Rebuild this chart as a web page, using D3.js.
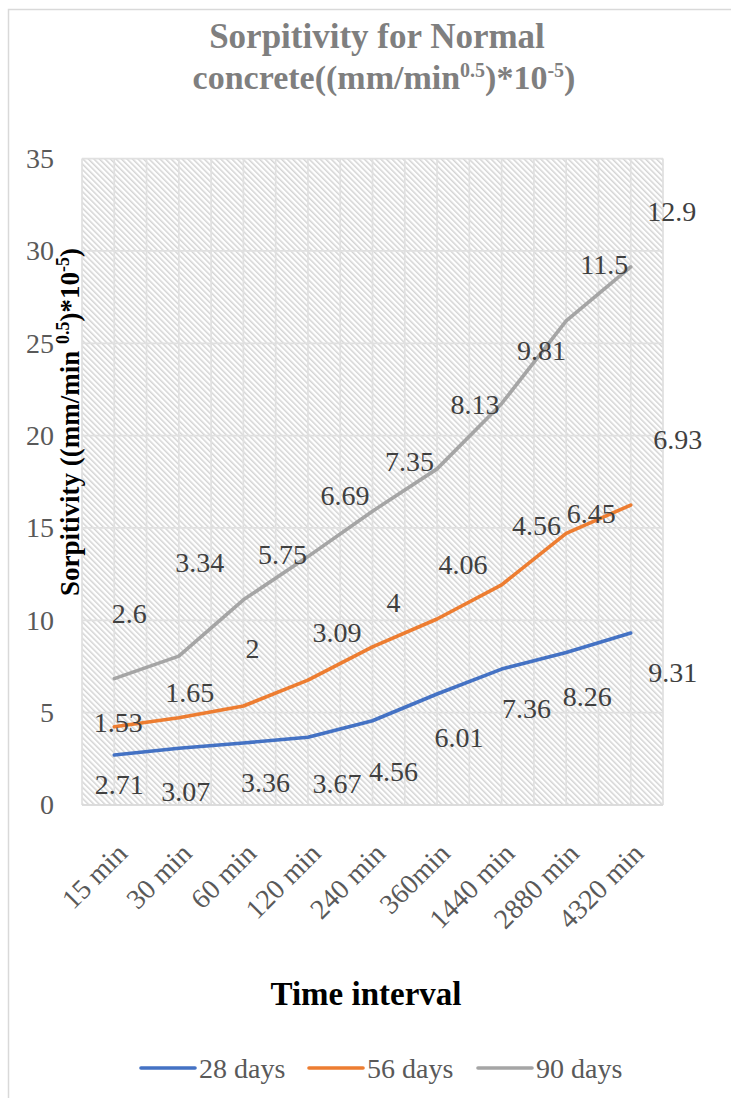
<!DOCTYPE html>
<html>
<head>
<meta charset="utf-8">
<script src="https://cdn.jsdelivr.net/npm/d3@7"></script>
<style>
  html, body { margin: 0; padding: 0; background: #fff; }
  svg { display: block; }
  text { font-family: "Liberation Serif", "Times New Roman", serif; }
</style>
</head>
<body>
<svg id="chart" width="731" height="1098"></svg>
<script>
// Sorptivity readings per time interval, one array per curing age
const categories = ["15 min", "30 min", "60 min", "120 min", "240 min", "360min", "1440 min", "2880 min", "4320 min"];
const days28 = [2.71, 3.07, 3.36, 3.67, 4.56, 6.01, 7.36, 8.26, 9.31];
const days56 = [1.53, 1.65, 2, 3.09, 4, 4.06, 4.56, 6.45, 6.93];
const days90 = [2.6, 3.34, 5.75, 6.69, 7.35, 8.13, 9.81, 11.5, 12.9];
const seriesNames = ["28 days", "56 days", "90 days"];
const yTicks = [0, 5, 10, 15, 20, 25, 30, 35];

// Pixel nudges of each value label from its point (dx, dy)
const labelNudge = [
  [[5, 30], [7, 43], [22, 40], [29, 46], [21, 51], [22, 43], [25, 39], [21, 44], [42, 39]],
  [[4, -4], [11, -25], [9, -58], [29, -48], [21, -44], [26, -55], [35, -59], [25, -20], [47, -66]],
  [[15, -65], [21, -94], [39, -45], [37, -61], [37, -50], [38, -64], [40, -53], [38, -56], [41, -55]]
];

const colors = ["#4472C4", "#ED7D31", "#A5A5A5"];
const svg = d3.select("#chart");

// Outer chart frame
svg.append("rect")
  .attr("x", 8.5).attr("y", 9.5).attr("width", 760).attr("height", 1120)
  .attr("fill", "none").attr("stroke", "#d9d9d9").attr("stroke-width", 1.5);

const plot = { left: 82, right: 663, top: 158.6, bottom: 805 };

const rows = categories.map((c, i) => ({
  cat: c, "28 days": days28[i], "56 days": days56[i], "90 days": days90[i]
}));
const stacked = d3.stack().keys(seriesNames)(rows);

const x = d3.scalePoint().domain(categories).range([plot.left, plot.right]).padding(0.5);
const y = d3.scaleLinear().domain([0, 35]).range([plot.bottom, plot.top]);

// Hatched plot background
const defs = svg.append("defs");
const pat = defs.append("pattern")
  .attr("id", "hatch").attr("patternUnits", "userSpaceOnUse")
  .attr("width", 3.9).attr("height", 10)
  .attr("patternTransform", "rotate(-45)");
pat.append("rect").attr("width", 3.9).attr("height", 10).attr("fill", "#ffffff");
pat.append("rect").attr("width", 1.5).attr("height", 10).attr("fill", "#d4d4d4");

svg.append("rect")
  .attr("x", plot.left).attr("y", plot.top)
  .attr("width", plot.right - plot.left).attr("height", plot.bottom - plot.top)
  .attr("fill", "url(#hatch)");

// Gridlines: horizontal at each tick, vertical at every half category step
const grid = svg.append("g").attr("stroke", "#e0e0e0").attr("stroke-width", 1.7);
grid.selectAll("line.h").data(yTicks).join("line")
  .attr("x1", plot.left).attr("x2", plot.right)
  .attr("y1", d => y(d)).attr("y2", d => y(d));
const half = x.step() / 2;
grid.selectAll("line.v").data(d3.range(categories.length * 2 + 1)).join("line")
  .attr("x1", k => plot.left + k * half).attr("x2", k => plot.left + k * half)
  .attr("y1", plot.top).attr("y2", plot.bottom);

// Y axis tick labels
const yAxis = svg.append("g")
  .attr("transform", `translate(${plot.left},0)`)
  .call(d3.axisLeft(y).tickValues(yTicks).tickSize(0).tickPadding(28));
yAxis.select(".domain").remove();
yAxis.selectAll("text")
  .attr("font-size", 28).attr("fill", "#595959")
  .style("font-family", "'Liberation Serif', 'Times New Roman', serif");

// X axis line and rotated category labels
const xAxis = svg.append("g")
  .attr("transform", `translate(0,${plot.bottom})`)
  .call(d3.axisBottom(x).tickSize(0).tickPadding(0));
xAxis.select(".domain").attr("stroke", "#d9d9d9").attr("stroke-width", 1.6)
  .attr("d", `M${plot.left},0H${plot.right}`);
xAxis.selectAll("text")
  .attr("font-size", 28).attr("fill", "#595959")
  .attr("text-anchor", "end")
  .attr("dy", 0).attr("y", 0)
  .attr("transform", "translate(14,50) rotate(-45)")
  .style("font-family", "'Liberation Serif', 'Times New Roman', serif");

// Series lines
const line = d3.line().x((d, i) => x(categories[i])).y(d => y(d[1]));
svg.append("g").selectAll("path").data(stacked).join("path")
  .attr("d", s => line(s))
  .attr("fill", "none")
  .attr("stroke", (s, i) => colors[i])
  .attr("stroke-width", 3.6)
  .attr("stroke-linejoin", "round")
  .attr("stroke-linecap", "round");

// Value labels
const valueSets = [days28, days56, days90];
const labels = svg.append("g").attr("font-size", 28).attr("fill", "#404040").attr("text-anchor", "middle");
stacked.forEach((s, si) => {
  s.forEach((d, i) => {
    labels.append("text")
      .attr("x", x(categories[i]) + labelNudge[si][i][0])
      .attr("y", y(d[1]) + labelNudge[si][i][1])
      .attr("dy", "0.34em")
      .text(valueSets[si][i]);
  });
});

// Chart title
const title = svg.append("text")
  .attr("text-anchor", "middle").attr("font-weight", "bold")
  .attr("font-size", 35).attr("fill", "#7f7f7f");
title.append("tspan").attr("x", 377).attr("y", 48).text("Sorpitivity for Normal");
const line2 = title.append("tspan").attr("x", 384).attr("y", 89).attr("font-size", 34);
line2.append("tspan").text("concrete((mm/min");
line2.append("tspan").attr("font-size", 20).attr("dy", -12).text("0.5");
line2.append("tspan").attr("dy", 12).text(")*10");
line2.append("tspan").attr("font-size", 20).attr("dy", -12).text("-5");
line2.append("tspan").attr("dy", 12).text(")");

// Y axis title
const yTitle = svg.append("text")
  .attr("transform", "translate(79,422) rotate(-90)")
  .attr("text-anchor", "middle").attr("font-weight", "bold")
  .attr("font-size", 27).attr("fill", "#000");
yTitle.append("tspan").text("Sorpitivity ((mm/min ");
yTitle.append("tspan").attr("font-size", 18).attr("dy", -10).text("0.5");
yTitle.append("tspan").attr("dy", 10).text(")*10");
yTitle.append("tspan").attr("font-size", 18).attr("dy", -10).text("-5");
yTitle.append("tspan").attr("dy", 10).text(")");

// X axis title
svg.append("text")
  .attr("x", 366).attr("y", 1005)
  .attr("text-anchor", "middle").attr("font-weight", "bold")
  .attr("font-size", 33).attr("fill", "#000")
  .text("Time interval");

// Legend
const legendX = [141, 309, 478];
const legend = svg.append("g");
seriesNames.forEach((name, i) => {
  legend.append("line")
    .attr("x1", legendX[i]).attr("x2", legendX[i] + 54)
    .attr("y1", 1068).attr("y2", 1068)
    .attr("stroke", colors[i]).attr("stroke-width", 3.6).attr("stroke-linecap", "round");
  legend.append("text")
    .attr("x", legendX[i] + 58).attr("y", 1078)
    .attr("font-size", 28).attr("fill", "#595959")
    .text(name);
});
</script>
</body>
</html>
